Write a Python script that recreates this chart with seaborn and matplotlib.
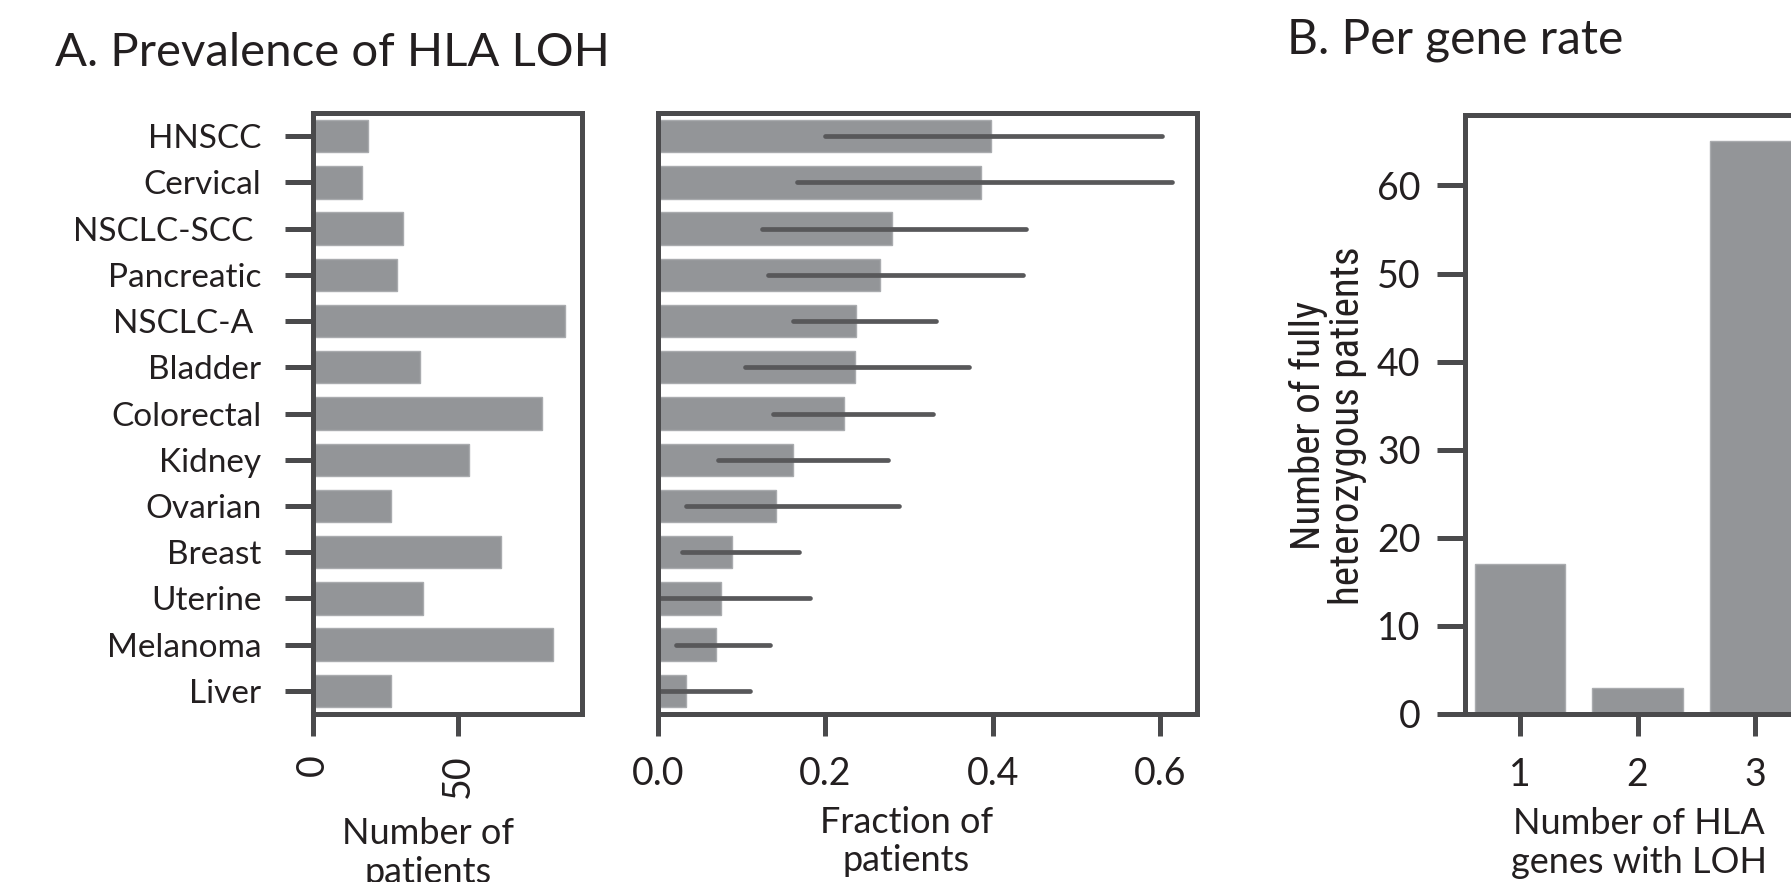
import matplotlib
matplotlib.use("Agg")
import matplotlib.pyplot as plt
import seaborn as sns
import pandas as pd
from matplotlib import font_manager

# ---------------- data ----------------
cancer_types = ["HNSCC", "Cervical", "NSCLC-SCC ", "Pancreatic", "NSCLC-A ", "Bladder",
                "Colorectal", "Kidney", "Ovarian", "Breast", "Uterine", "Melanoma", "Liver"]
n_patients = [19, 17, 31, 29, 87, 37, 79, 54, 27, 65, 38, 83, 27]
fraction_loh = [0.398, 0.386, 0.279, 0.265, 0.237, 0.235, 0.222, 0.161, 0.141,
                0.089, 0.075, 0.069, 0.034]
ci_low = [0.199, 0.166, 0.124, 0.131, 0.161, 0.104, 0.137, 0.072, 0.034,
          0.029, 0.0, 0.022, 0.0]
ci_high = [0.602, 0.614, 0.440, 0.436, 0.332, 0.371, 0.328, 0.275, 0.288,
           0.169, 0.182, 0.134, 0.110]
genes_with_loh = ["1", "2", "3"]
n_het_patients = [17, 3, 65]

count_ticks = [0, 50]
frac_ticks = [0.0, 0.2, 0.4, 0.6]
het_ticks = [0, 10, 20, 30, 40, 50, 60]

# ---------------- style ----------------
sns.set_style("white")
TXT = "#231f20"
SPINE = "#4a4a4c"
BAR = "#939598"
EDGE = "#a9abae"
ERR = "#58585a"
plt.rcParams["font.family"] = ["Lato", "DejaVu Sans"]
plt.rcParams["text.color"] = TXT
plt.rcParams["axes.labelcolor"] = TXT
plt.rcParams["xtick.color"] = SPINE
plt.rcParams["ytick.color"] = SPINE
plt.rcParams["xtick.labelcolor"] = TXT
plt.rcParams["ytick.labelcolor"] = TXT

available = {f.name for f in font_manager.fontManager.ttflist}
narrow = None
for cand in ["Roboto Condensed", "Liberation Sans Narrow", "Open Sans Condensed",
             "Noto Sans Condensed", "DejaVu Sans Condensed"]:
    if cand in available:
        narrow = cand
        break

FS = 24      # category tick labels
FSN = 27     # numeric tick labels
FSL = 26     # axis labels
W, H = 1791, 882
fig = plt.figure(figsize=(W / 100, H / 100), dpi=100)


def rect(l, r, t, b):
    return [l / W, 1 - b / H, (r - l) / W, (b - t) / H]


ax1 = fig.add_axes(rect(313, 582, 113, 714))
ax2 = fig.add_axes(rect(658, 1197, 113, 714))
ax3 = fig.add_axes(rect(1465, 1810, 115, 714))

df = pd.DataFrame({"cancer": cancer_types, "n": n_patients, "frac": fraction_loh,
                   "lo": ci_low, "hi": ci_high})

for ax in (ax1, ax2, ax3):
    for s in ax.spines.values():
        s.set_visible(True)
        s.set_color(SPINE)
        s.set_linewidth(3.6)
        s.set_zorder(5)

# ---- A1: number of patients ----
sns.barplot(data=df, x="n", y="cancer", color=BAR, width=0.7, edgecolor=EDGE,
            linewidth=1, saturation=1, ax=ax1)
ax1.set_xlim(0, 93)
ax1.set_ylim(len(cancer_types) - 0.5, -0.5)
ax1.set_xticks(count_ticks)
ax1.set_xticklabels([str(v) for v in count_ticks])
ax1.tick_params(axis="x", labelrotation=90, length=16, width=3.6, pad=13,
                labelsize=FSN, bottom=True, direction="out")
ax1.tick_params(axis="y", length=20, width=3.6, pad=17, labelsize=FS, left=True,
                direction="out")
ax1.set_ylabel("")
ax1.set_xlabel("Number of\npatients", fontsize=FSL)
ax1.xaxis.set_label_coords(0.426, -0.172)
ax1.xaxis.label.set_va("top")

# ---- A2: fraction of patients ----
sns.barplot(data=df, x="frac", y="cancer", color=BAR, width=0.7, edgecolor=EDGE,
            linewidth=1, saturation=1, ax=ax2)
ax2.hlines(y=range(len(cancer_types)), xmin=df["lo"], xmax=df["hi"], color=ERR,
           linewidth=3.4, capstyle="round", zorder=4)
ax2.set_xlim(0, 0.644)
ax2.set_ylim(len(cancer_types) - 0.5, -0.5)
ax2.set_xticks(frac_ticks)
ax2.set_xticklabels([f"{v:.1f}" for v in frac_ticks])
ax2.tick_params(axis="x", length=16, width=3.6, pad=14, labelsize=FSN, bottom=True,
                direction="out")
ax2.tick_params(axis="y", left=False, labelleft=False)
ax2.set_ylabel("")
ax2.set_xlabel("Fraction of\npatients", fontsize=FSL)
ax2.xaxis.set_label_coords(0.461, -0.153)
ax2.xaxis.label.set_va("top")

# ---- B: per gene rate ----
sns.barplot(x=genes_with_loh, y=n_het_patients, color=BAR, width=0.77, edgecolor=EDGE,
            linewidth=1, saturation=1, ax=ax3)
ax3.set_xlim(-0.466, 2.466)
ax3.set_ylim(0, 68)
ax3.set_yticks(het_ticks)
ax3.set_yticklabels([str(v) for v in het_ticks])
ax3.tick_params(axis="y", length=20, width=3.6, pad=12, labelsize=FSN, left=True,
                direction="out")
ax3.tick_params(axis="x", length=16, width=3.6, pad=15, labelsize=FSN, bottom=True,
                direction="out")
ax3.set_xlabel("Number of HLA\ngenes with LOH", fontsize=FSL)
ax3.xaxis.set_label_coords(0.503, -0.156)
ax3.xaxis.label.set_va("top")
if narrow:
    ax3.set_ylabel("Number of fully\nheterozygous patients", fontsize=29.5,
                   family=[narrow, "Lato"], linespacing=1.0)
else:
    ax3.set_ylabel("Number of fully\nheterozygous patients", fontsize=24.5,
                   family=["Lato"], linespacing=1.25)
ax3.yaxis.set_label_coords(-0.397, 0.481)
ax3.yaxis.label.set_va("center")

# ---- titles ----
fig.text(55 / W, 1 - 66 / H, "A. Prevalence of HLA LOH", fontsize=34, va="baseline",
         ha="left")
fig.text(1287 / W, 1 - 54 / H, "B. Per gene rate", fontsize=34.5, va="baseline",
         ha="left")

fig.savefig("out.png", dpi=100)
